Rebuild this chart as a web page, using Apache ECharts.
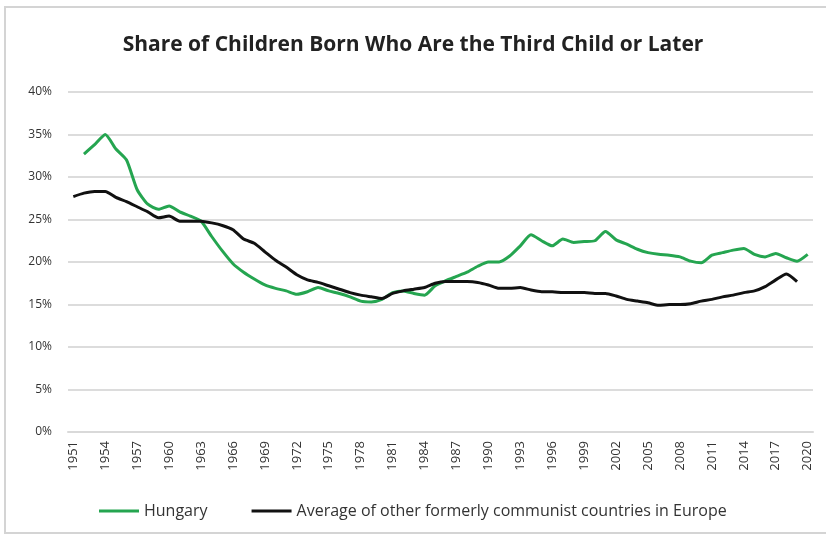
<!DOCTYPE html>
<html>
<head>
<meta charset="utf-8">
<script src="https://cdn.jsdelivr.net/npm/echarts@6/dist/echarts.min.js"></script>
<style>
  html, body { margin: 0; padding: 0; background: #fff; }
  #chart { width: 826px; height: 536px; }
</style>
</head>
<body>
<div id="chart"></div>
<script>
(function () {
    "use strict";

    var years = [];
    for (var y = 1951; y <= 2020; y++) {
        years.push(String(y));
    }

    // Hungary, from 1952 on
    var hungary = [
        null, 32.7, 33.8, 35.0, 33.3, 32.0, 28.5, 26.8, 26.2, 26.6,
        25.9, 25.4, 24.8, 23.0, 21.3, 19.8, 18.8, 18.0, 17.3, 16.9,
        16.6, 16.2, 16.5, 17.0, 16.6, 16.3, 15.9, 15.4, 15.3, 15.6,
        16.4, 16.6, 16.3, 16.1, 17.2, 17.8, 18.3, 18.8, 19.5, 20.0,
        20.0, 20.7, 21.9, 23.2, 22.5, 21.9, 22.7, 22.3, 22.4, 22.5,
        23.6, 22.6, 22.1, 21.5, 21.1, 20.9, 20.8, 20.6, 20.1, 19.9,
        20.8, 21.1, 21.4, 21.6, 20.9, 20.6, 21.0, 20.5, 20.1, 20.9
    ];

    // Average of other formerly communist countries, up to 2019
    var others = [
        27.7, 28.1, 28.3, 28.3, 27.6, 27.1, 26.5, 25.9, 25.2, 25.4,
        24.8, 24.8, 24.8, 24.6, 24.3, 23.8, 22.7, 22.2, 21.2, 20.2,
        19.4, 18.5, 17.9, 17.6, 17.2, 16.8, 16.4, 16.1, 15.9, 15.7,
        16.3, 16.6, 16.8, 17.0, 17.5, 17.7, 17.7, 17.7, 17.6, 17.3,
        16.9, 16.9, 17.0, 16.7, 16.5, 16.5, 16.4, 16.4, 16.4, 16.3,
        16.3, 16.0, 15.6, 15.4, 15.2, 14.9, 15.0, 15.0, 15.1, 15.4,
        15.6, 15.9, 16.1, 16.4, 16.6, 17.1, 17.9, 18.6, 17.7, null
    ];

    var titleText = "Share of Children Born Who Are the Third Child or Later";
    var seriesNames = ["Hungary", "Average of other formerly communist countries in Europe"];

    var chart = echarts.init(document.getElementById("chart"));

    var option = {
        backgroundColor: "#fff",
        animation: false,
        title: {
            text: titleText,
            left: "center",
            top: 30,
            textStyle: {
                fontFamily: "Open Sans",
                fontWeight: "bold",
                fontSize: 21,
                color: "#222"
            }
        },
        legend: {
            bottom: 12,
            left: 94,
            itemWidth: 40,
            itemHeight: 3,
            itemGap: 44,
            icon: "rect",
            textStyle: {
                fontFamily: "Open Sans",
                fontSize: 16,
                color: "#333"
            },
            data: seriesNames
        },
        grid: {
            left: 68,
            right: 13,
            top: 92,
            bottom: 104
        },
        xAxis: {
            type: "category",
            data: years,
            boundaryGap: true,
            axisLine: { lineStyle: { color: "#d9d9d9", width: 2 } },
            axisTick: { show: false },
            axisLabel: {
                interval: 2,
                rotate: 90,
                margin: 9,
                fontFamily: "Open Sans",
                fontSize: 13,
                color: "#333"
            }
        },
        yAxis: {
            type: "value",
            min: 0,
            max: 40,
            interval: 5,
            axisLine: { show: false },
            axisTick: { show: false },
            splitLine: { lineStyle: { color: "#dcdcdc", width: 2 } },
            axisLabel: {
                formatter: "{value}%",
                margin: 16,
                fontFamily: "Open Sans",
                fontSize: 12,
                color: "#333"
            }
        },
        series: [
            {
                name: seriesNames[0],
                type: "line",
                data: hungary,
                symbol: "none",
                smooth: 0.2,
                lineStyle: { color: "#25a550", width: 3 },
                itemStyle: { color: "#25a550" }
            },
            {
                name: seriesNames[1],
                type: "line",
                data: others,
                symbol: "none",
                smooth: 0.2,
                lineStyle: { color: "#111", width: 3 },
                itemStyle: { color: "#111" }
            }
        ],
        graphic: [
            {
                type: "rect",
                shape: { x: 5, y: 7, width: 830, height: 526 },
                style: { fill: "none", stroke: "#d4d4d4", lineWidth: 2 },
                silent: true
            }
        ]
    };

    chart.setOption(option);
})();
</script>
</body>
</html>
